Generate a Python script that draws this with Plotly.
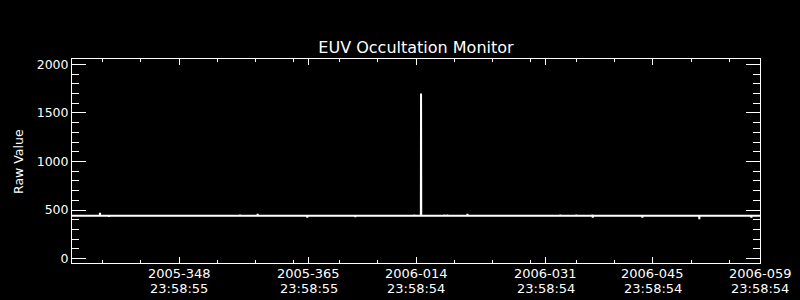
import pandas as pd
import plotly.graph_objects as go

# ---- data -------------------------------------------------------------
start_time = "2005-11-30 23:58:55"    # 2005-334 23:58:55
end_time = "2006-02-28 23:58:54"      # 2006-059 23:58:54
baseline_value = 441

# days elapsed since start_time, and raw value read at that moment
event_days = [3.66, 4.84, 13.78, 21.98, 24.29, 30.78, 37.06, 44.78, 45.66,
              48.70, 49.10, 51.74, 63.88, 65.97, 67.02, 68.07, 68.12,
              74.61, 82.06, 88.87]
event_values = [472, 430, 432, 452, 462, 422, 428, 452, 1701,
                452, 452, 462, 452, 452, 432, 452, 422,
                422, 405, 422]

major_tick_dates = ["2005-12-14 23:58:55", "2005-12-31 23:58:55",
                    "2006-01-14 23:58:54", "2006-01-31 23:58:54",
                    "2006-02-14 23:58:54", "2006-02-28 23:58:54"]
major_tick_days = ["2005-348", "2005-365", "2006-014",
                   "2006-031", "2006-045", "2006-059"]
major_tick_times = ["23:58:55", "23:58:55", "23:58:54",
                    "23:58:54", "23:58:54", "23:58:54"]
minor_tick_days = [4, 9, 19, 24, 29, 35, 40, 50, 55, 60, 66, 71, 81, 86]

# ---- build series ----------------------------------------------------
t0 = pd.Timestamp(start_time)
t1 = pd.Timestamp(end_time)
half = 0.025
xs, ys = [t0], [baseline_value]
for d, v in zip(event_days, event_values):
    xs += [t0 + pd.Timedelta(days=d - half), t0 + pd.Timedelta(days=d),
           t0 + pd.Timedelta(days=d + half)]
    ys += [baseline_value, v, baseline_value]
xs.append(t1)
ys.append(baseline_value)
minor_ticks = [t0 + pd.Timedelta(days=d) for d in minor_tick_days]

FONT = "DejaVu Sans"
fig = go.Figure()
fig.add_trace(go.Scatter(x=xs, y=ys, mode="lines",
                         line=dict(color="white", width=2),
                         hoverinfo="skip", showlegend=False))

fig.update_layout(
    width=800, height=300,
    paper_bgcolor="black", plot_bgcolor="black",
    margin=dict(l=72, r=40, t=59, b=37),
    font=dict(family=FONT, color="white", size=13),
    title=dict(text="EUV Occultation Monitor", x=416 / 800, xanchor="center",
               y=1 - 47 / 300, yanchor="middle", yref="container",
               font=dict(family=FONT, size=16, color="white")),
    showlegend=False,
)
fig.update_xaxes(
    type="date", range=[t0, t1], automargin=False,
    showgrid=False, zeroline=False,
    showline=True, linecolor="white", linewidth=1, mirror="ticks",
    ticks="inside", ticklen=6, tickwidth=1, tickcolor="white",
    tickmode="array", tickvals=major_tick_dates, showticklabels=False,
    minor=dict(tickmode="array", tickvals=minor_ticks, ticks="inside",
               ticklen=3, tickwidth=1, tickcolor="white", showgrid=False),
)
fig.update_yaxes(
    range=[-45, 2055], automargin=False,
    showgrid=False, zeroline=False,
    showline=True, linecolor="white", linewidth=1, mirror="ticks",
    ticks="inside", ticklen=14, tickwidth=1, tickcolor="white",
    tickmode="linear", tick0=0, dtick=500,
    tickfont=dict(family=FONT, size=12.5, color="white"),
    minor=dict(tickmode="linear", tick0=0, dtick=100, ticks="inside",
               ticklen=7, tickwidth=1, tickcolor="white", showgrid=False),
)
# two-line date tick labels
for tv, dl, tl in zip(major_tick_dates, major_tick_days, major_tick_times):
    for text, ypx in ((dl, 273.3), (tl, 288.3)):
        fig.add_annotation(text=text, x=tv, xref="x", yref="paper",
                           y=(263 - ypx) / 204, xanchor="center",
                           yanchor="middle", showarrow=False,
                           font=dict(family=FONT, size=13, color="white"))
fig.add_annotation(text="Raw Value", textangle=-90, xref="paper", yref="paper",
                   x=(18.3 - 72) / 688, y=(263 - 161.7) / 204,
                   xanchor="center", yanchor="middle", showarrow=False,
                   font=dict(family=FONT, size=12.5, color="white"))

fig.write_html("out.html")
